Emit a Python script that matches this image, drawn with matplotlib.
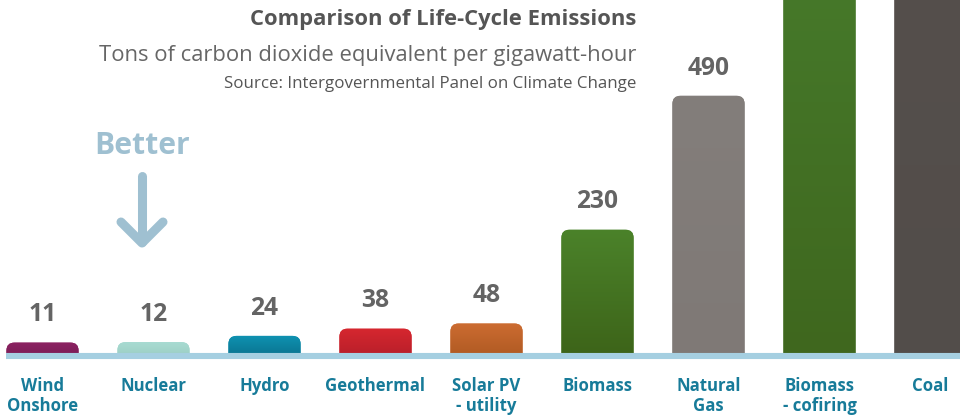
import numpy as np
import matplotlib
matplotlib.use("Agg")
import matplotlib.pyplot as plt
from matplotlib.patches import FancyBboxPatch
from matplotlib.colors import to_rgb
from matplotlib.transforms import offset_copy

# ---- data ----
categories = ["Wind\nOnshore", "Nuclear", "Hydro", "Geothermal", "Solar PV\n- utility",
              "Biomass", "Natural\nGas", "Biomass\n- cofiring", "Coal"]
values = [11, 12, 24, 38, 48, 230, 490, 740, 820]
colors_top = ["#8c2262", "#a8dbd2", "#0f93b2", "#d6272f", "#cc6c31",
              "#4b822a", "#837e7b", "#46792a", "#554f4c"]
colors_bottom = ["#7b1d56", "#9ccfc4", "#0a7490", "#b81f2a", "#b05a23",
                 "#3d6419", "#7f7976", "#3f671e", "#524d4a"]

title = "Comparison of Life-Cycle Emissions"
subtitle = "Tons of carbon dioxide equivalent per gigawatt-hour"
source = "Source: Intergovernmental Panel on Climate Change"

FONT = ["Open Sans", "DejaVu Sans"]
plt.rcParams["font.family"] = FONT

W, H = 960, 416
fig = plt.figure(figsize=(W / 100, H / 100), dpi=100)
base_px = 356
ax = fig.add_axes([0, (H - base_px) / H, 1, base_px / H])
ax.set_axis_off()

OFFSET = 15
TOP = 676
ax.set_ylim(-OFFSET, TOP)
ax.set_xlim(-42.5 / 111, (960 - 42.5) / 111)

renderer = fig.canvas.get_renderer()

def fit(t, target_px):
    for _ in range(3):
        w = t.get_window_extent(renderer).width
        t.set_fontsize(t.get_fontsize() * target_px / w)
    return t.get_fontsize()

x = np.arange(len(values))
bw = 0.65
bars = ax.bar(x, values, width=bw, bottom=0, color="none")
rx = 8 / 111
aspect = (8 / 0.515) / rx
for b, ct, cb in zip(bars, colors_top, colors_bottom):
    x0 = b.get_x()
    w = b.get_width()
    top = b.get_y() + b.get_height()
    y0 = -OFFSET - 40
    patch = FancyBboxPatch((x0, y0), w, top - y0,
                           boxstyle=f"round,pad=0,rounding_size={rx}",
                           mutation_aspect=aspect, facecolor=ct, edgecolor="none",
                           zorder=2)
    ax.add_patch(patch)
    grad = np.linspace(0, 1, 64)[:, None]
    c1, c2 = np.array(to_rgb(ct)), np.array(to_rgb(cb))
    img = (c1[None, None, :] * (1 - grad[..., None]) + c2[None, None, :] * grad[..., None])
    im = ax.imshow(img, extent=(x0, x0 + w, -OFFSET, min(top, TOP + 50)), aspect="auto",
                   origin="upper", zorder=3, interpolation="bilinear")
    im.set_clip_path(patch)
    b.set_visible(False)

# value labels
probe = ax.text(0, 0, "490", fontsize=17, fontweight="bold")
vsize = fit(probe, 42)
probe.remove()
for xi, v in zip(x, values):
    if v < TOP - 40:
        ax.annotate(f"{v}", (xi, v), xytext=(0, 20), textcoords="offset points",
                    ha="center", va="center", fontsize=vsize, fontweight="bold",
                    color="#646464", zorder=5)

# baseline
ax.plot([x[0] - bw / 2, ax.get_xlim()[1]], [-OFFSET, -OFFSET], color="#a5cfe1",
        lw=4.4, solid_capstyle="butt", clip_on=False, zorder=4)

# category labels
probe = ax.text(0, 0, "Geothermal", fontsize=12, fontweight="bold")
csize = fit(probe, 100)
probe.remove()
ctrans = offset_copy(ax.transData, fig=fig, x=0, y=-21, units="dots")
for xi, c in zip(x, categories):
    ax.text(xi, -OFFSET, c, transform=ctrans, ha="center", va="top",
            fontsize=csize, fontweight="bold", color="#177b99", linespacing=1.12,
            clip_on=False)

def fpx(xp, yp):
    return xp / W, 1 - yp / H

# titles
t1 = fig.text(*fpx(636, 19), title, ha="right", va="center", fontsize=15,
              fontweight="bold", color="#555555")
fit(t1, 386)
t2 = fig.text(*fpx(636, 56), subtitle, ha="right", va="center", fontsize=16,
              color="#666666")
fit(t2, 535)
t3 = fig.text(*fpx(636, 84), source, ha="right", va="center", fontsize=11,
              color="#555555")
fit(t3, 414)

# Better arrow
acol = "#9fc0d1"
tb = fig.text(*fpx(142, 146), "Better", ha="center", va="center", fontsize=22,
              fontweight="bold", color=acol)
fit(tb, 95)
lw = 6.5
fig.add_artist(plt.Line2D([142 / W, 142 / W], [1 - 176 / H, 1 - 242 / H],
                          color=acol, lw=lw, solid_capstyle="round"))
fig.add_artist(plt.Line2D([121 / W, 142 / W, 163 / W],
                          [1 - 222 / H, 1 - 243 / H, 1 - 222 / H],
                          color=acol, lw=lw, solid_capstyle="round",
                          solid_joinstyle="round"))

fig.savefig("out.png", dpi=100)
